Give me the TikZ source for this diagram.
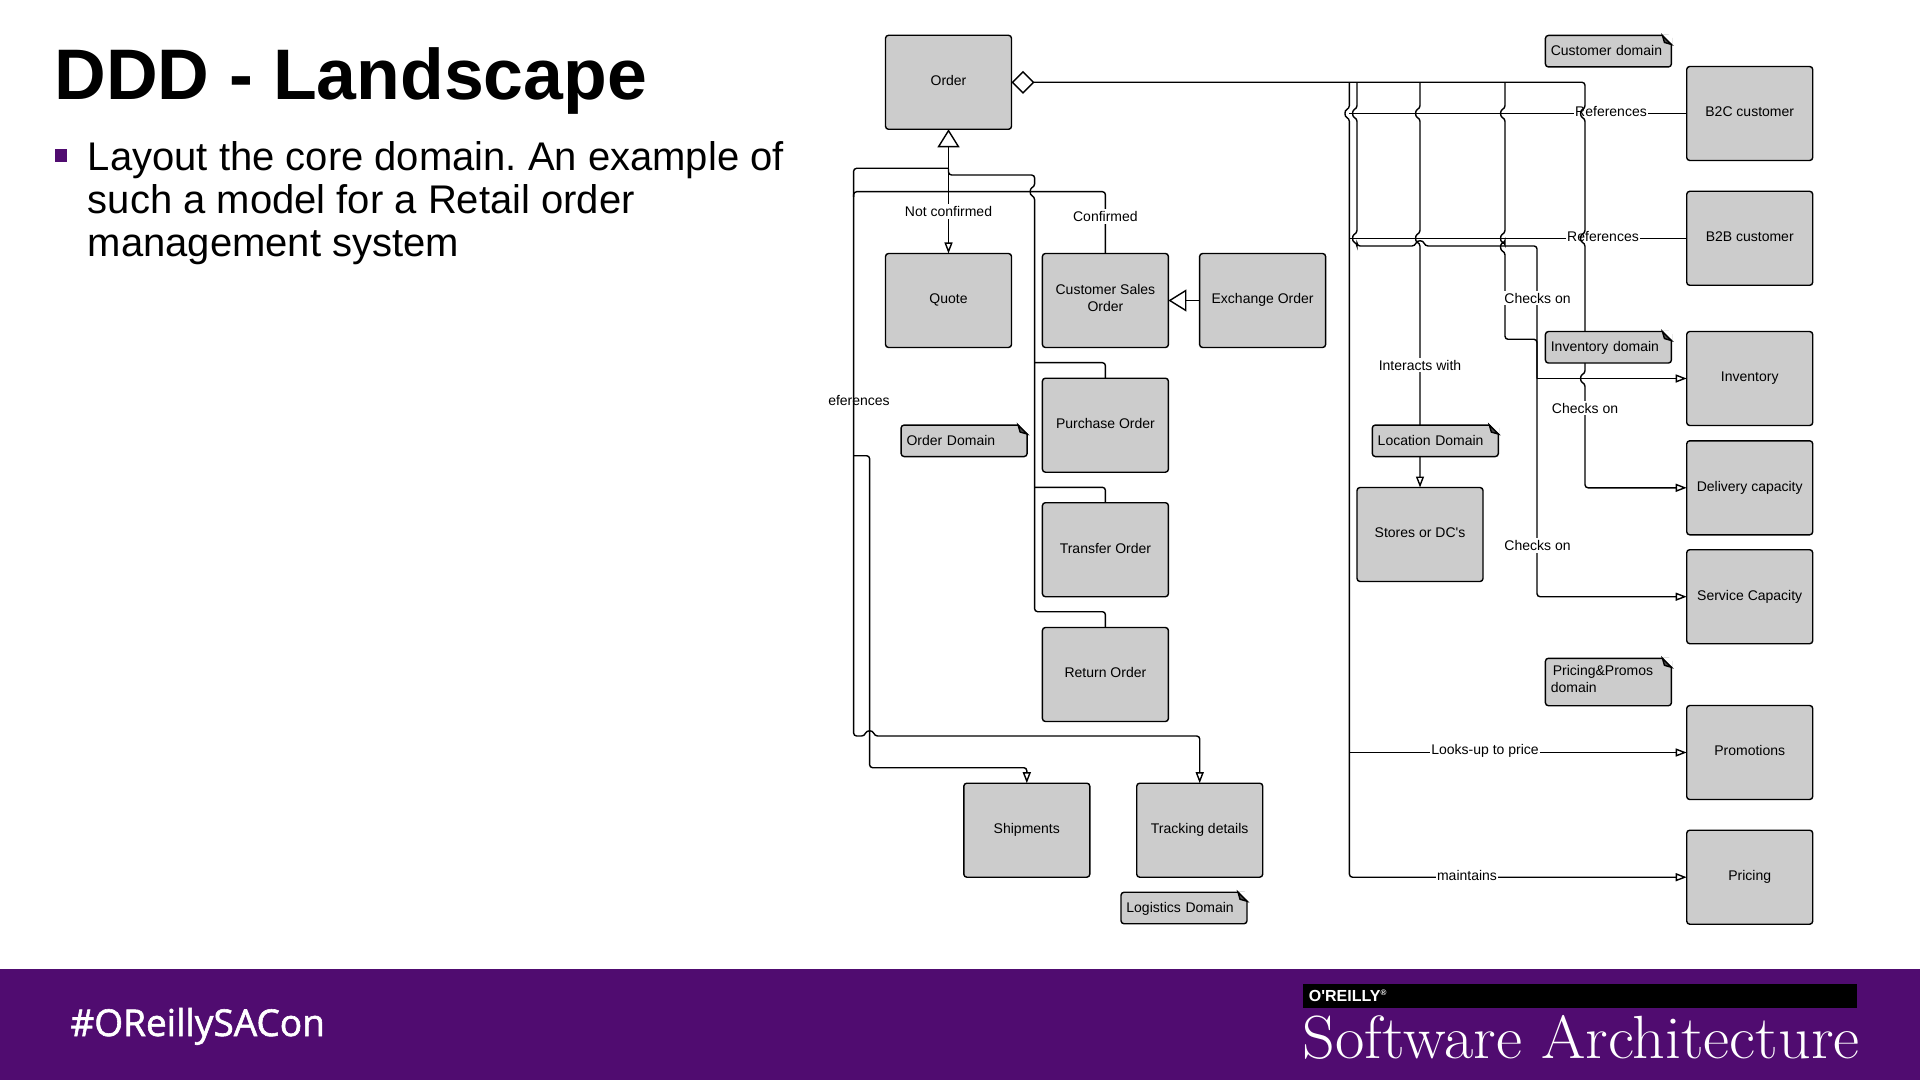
\documentclass[tikz,border=0pt]{standalone}
\usepackage{fontspec}
\usetikzlibrary{arrows.meta,backgrounds}
\newfontfamily\lsans{Liberation Sans}
\newfontfamily\hashfont[FakeBold=1.6]{Open Sans}
\definecolor{oreillypurple}{HTML}{500C70}
\definecolor{boxgray}{HTML}{CCCCCC}
\def\vj#1#2{-- (#1,#2-5) .. controls (#1-5,#2-3) and (#1-5,#2+3) .. (#1,#2+5)}
\def\hj#1#2{-- (#1-5,#2) .. controls (#1-3,#2-6) and (#1+3,#2-6) .. (#1+5,#2)}
\def\notestrut{\rule[-0.24\baselineskip]{0pt}{\baselineskip}}
\frenchspacing
\tikzset{
  smalltri/.tip={Triangle[open,length=5.5pt,width=4pt]},
  bigtri/.tip={Triangle[open,length=9pt,width=11pt]},
  lozenge/.tip={Diamond[open,length=11.5pt,width=11.5pt]},
  labelfont/.style={font=\lsans\fontsize{7}{8.3}\selectfont},
  box/.style={draw=black,line width=0.7pt,fill=boxgray,rounded corners=1.5pt,minimum width=63pt,minimum height=47pt,inner sep=0pt,outer sep=0pt,align=center,labelfont,execute at begin node=\strut,execute at end node=\strut},
  note/.style={draw=black,line width=0.7pt,fill=boxgray,rounded corners=1.5pt,minimum height=15.75pt,text width=57.6pt,inner xsep=2.7pt,inner ysep=0pt,outer sep=0pt,align=left,labelfont,execute at begin node=\notestrut,execute at end node=\notestrut},
  conn/.style={draw=black,line width=0.7pt,rounded corners=1.5pt},
  lab/.style={labelfont,fill=white,inner xsep=0.5pt,inner ysep=1pt},
  barelab/.style={labelfont,inner sep=0pt},
  bodyline/.style={anchor=base west,inner sep=0pt,font=\lsans\fontsize{20}{21.5}\selectfont},
}
\begin{document}
\begin{tikzpicture}[x=0.5pt,y=-0.5pt]
\useasboundingbox (0,0) rectangle (1920,1080);
% slide furniture
\node[anchor=base west,inner sep=0pt,font=\lsans\bfseries\fontsize{35.8}{36}\selectfont] (title) at (54,100) {DDD - Landscape};
\fill[oreillypurple] (55,149) rectangle (67,162);
\node[bodyline] (l1) at (87.5,171) {Layout the core domain. An example of};
\node[bodyline] (l2) at (87.5,214) {such a model for a Retail order};
\node[bodyline] (l3) at (87.5,257) {management system};
\fill[oreillypurple] (0,969) rectangle (1920,1080);
\node[anchor=base west,inner sep=0pt,text=white,font=\hashfont\fontsize{18.5}{18}\selectfont] (hash) at (70,1036) {\#OReillySACon};
\fill[black] (1303,984) rectangle (1857,1007.7);
\node[anchor=base west,inner sep=0pt,text=white,font=\lsans\bfseries\fontsize{8}{8}\selectfont] (brand) at (1308.5,1001.5) {O'REILLY\textsuperscript{\fontsize{4}{4}\selectfont\textregistered}};
\node[anchor=base west,inner sep=0pt,text=white,font=\fontsize{30.5}{30.5}\selectfont] (sa) at (1302,1058) {\scalebox{1.048}[1]{Software Architecture}};
% boxes
\node[box] (order) at (948.5,82.3) {Order};
\node[box] (quote) at (948.5,300.5) {Quote};
\node[box] (cso) at (1105.4,300.5) {Customer Sales\\Order};
\node[box] (exchange) at (1262.6,300.5) {Exchange Order};
\node[box] (purchase) at (1105.4,425.2) {Purchase Order};
\node[box] (transfer) at (1105.4,549.7) {Transfer Order};
\node[box] (return) at (1105.4,674.5) {Return Order};
\node[box] (shipments) at (1026.8,830.2) {Shipments};
\node[box] (tracking) at (1199.7,830.2) {Tracking details};
\node[box] (stores) at (1420,534.5) {Stores or DC's};
\node[box] (b2c) at (1749.7,113.5) {B2C customer};
\node[box] (b2b) at (1749.7,238.3) {B2B customer};
\node[box] (inventory) at (1749.7,378.5) {Inventory};
\node[box] (delivery) at (1749.7,487.8) {Delivery capacity};
\node[box] (service) at (1749.7,596.7) {Service Capacity};
\node[box] (promotions) at (1749.7,752.5) {Promotions};
\node[box] (pricing) at (1749.7,877.2) {Pricing};
% notes
\node[note] (ndorder) at (964.1,440.8) {Order Domain};
\node[note] (ndcustomer) at (1608.4,51.2) {Customer domain};
\node[note] (ndinventory) at (1608.4,347.3) {Inventory domain};
\node[note] (ndlocation) at (1435.3,440.8) {Location Domain};
\node[note,minimum height=23.7pt] (ndpricing) at (1608.4,682) {\raisebox{1.2pt}[0pt][0pt]{\hspace{1pt}Pricing\&Promos}\\\raisebox{1.2pt}[0pt][0pt]{domain}};
\node[note] (ndlogistics) at (1184,908) {Logistics Domain};
\foreach \n in {ndorder,ndcustomer,ndinventory,ndlocation,ndpricing,ndlogistics}{
  \fill[white] ([xshift=-4.5pt,yshift=0.5pt]\n.north east) -- ([xshift=0.5pt,yshift=0.5pt]\n.north east) -- ([xshift=0.5pt,yshift=-4.5pt]\n.north east) -- cycle;
  \draw[black,line width=0.7pt,fill=black!70] ([xshift=-4.5pt]\n.north east) -- ([yshift=-4.5pt]\n.north east) -- ([xshift=-3.5pt,yshift=-3.5pt]\n.north east) -- cycle;
}
% connectors, behind the boxes
\begin{pgfonlayer}{background}
\fill[white] (0,0) rectangle (1920,1080);
\coordinate (xa) at (1349.4,82.3);
\coordinate (xb) at (1357,82.3);
\coordinate (xd) at (1505,82.3);
\coordinate (xc) at (1537,339.3);
\coordinate (trunk) at (1034.6,175);
\coordinate (spine) at (853.6,168.3);
% references
\draw[conn] (b2c.west) -- (xa |- b2c.west);
\node[lab] (lbref1) at (1611,112) {References};
\draw[conn] (b2b.west) -- (xa |- b2b.west);
\node[lab] (lbref2) at (1603,237) {References};
% right-hand bus
\draw[conn,-{smalltri}] (xa) \vj{1349.4}{113.5} -- (xa |- pricing.west) -- (pricing.west);
\draw[conn,-{smalltri}] (xa |- promotions.west) -- (promotions.west);
\node[lab] (lblook) at (1485,751) {Looks-up to price};
\node[lab] (lbmaint) at (1467,875) {maintains};
\draw[conn,-{smalltri}] (xb) \vj{1357}{113.5} \vj{1357}{238.3} -- (1357,246) \hj{1420}{246} -- (1537,246) -- (1537,596.7) -- (service.west);
\draw[conn,-{smalltri}] (xc |- inventory.west) -- (inventory.west);
\draw[conn] (xd) \vj{1505}{113.5} \vj{1505}{238.3} \vj{1505}{247} -- (1505,339.3) -- (xc) -- (xc |- inventory.west);
\node[lab] (lbchk1) at (1537.5,298) {Checks on};
\node[lab] (lbchk3) at (1537.5,545.5) {Checks on};
\draw[conn,-{smalltri}] (stores.north |- order.east) \vj{1420}{113.5} \vj{1420}{238.3} -- (stores.north);
\node[lab] (lbint) at (1420,365) {Interacts with};
\draw[conn,{lozenge}-{smalltri}] (order.east) -- (1585,82.3) \vj{1585}{113.5} \vj{1585}{238.3} \vj{1585}{378.5} -- (1585,487.8) -- (delivery.west);
\node[lab] (lbchk2) at (1585,408) {Checks on};
% left-hand side
\draw[conn,{bigtri}-{smalltri}] (order.south) -- (quote.north);
\node[lab] (lbnot) at (948.5,211.5) {Not confirmed};
\draw[conn,{bigtri}-] (cso.east) -- (exchange.west);
\draw[conn,-{smalltri}] (948.5,168.3) -- (spine) -- (853.6,736) \hj{869.6}{736} -- (tracking.north |- 0,736) -- (tracking.north);
\draw[conn] (853.6,197) -- (853.6,191.7) -- (1105.4,191.7) -- (cso.north);
\node[lab] (lbconf) at (1105.4,216.5) {Confirmed};
\draw[conn] (948.5,169) -- (948.5,175) -- (trunk) \vj{1034.6}{191.7} -- (1034.6,611.7) -- (return.north |- 0,611.7) -- (return.north);
\draw[conn] (1034.6,362.7) -- (purchase.north |- 0,362.7) -- (purchase.north);
\draw[conn] (1034.6,487.3) -- (transfer.north |- 0,487.3) -- (transfer.north);
\draw[conn,-{smalltri}] (853.6,455.7) -- (869.6,455.7) -- (869.6,767.7) -- (shipments.north |- 0,767.7) -- (shipments.north);
\node[barelab] (lbrefs) at (859,400.5) {eferences};
\end{pgfonlayer}
\end{tikzpicture}
\end{document}
